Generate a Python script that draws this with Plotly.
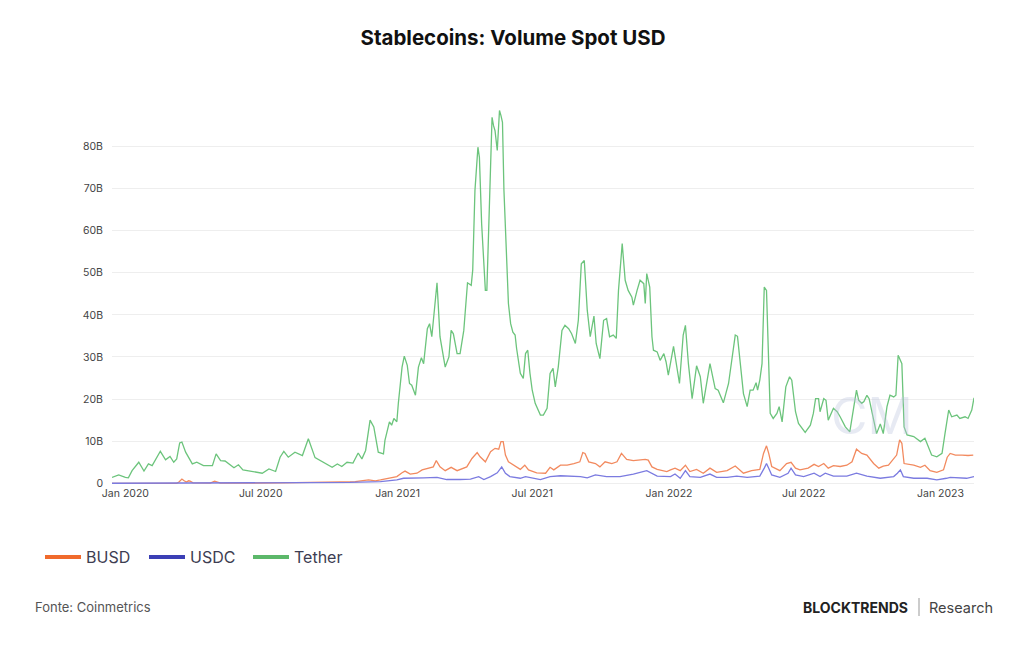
import pandas as pd
import plotly.graph_objects as go

BASE = pd.Timestamp("2020-01-01")

# Days since 2020-01-01 and values (billions USD)
tether_day = [-18, -9, 0, 4, 9, 18, 25, 31, 36, 47, 54, 60, 65, 69, 73, 76, 81, 90, 96, 105,
              117, 122, 128, 134, 146, 152, 158, 170, 184, 193, 202, 208, 213, 219, 228, 238,
              246, 255, 267, 278, 285, 291, 298, 306, 313, 318, 323, 329, 334, 340, 347, 349,
              355, 358, 361, 365, 367, 372, 375, 379, 382, 385, 390, 394, 398, 401, 406, 409,
              412, 419, 423, 430, 435, 438, 441, 446, 450, 455, 460, 465, 467, 470, 474, 476,
              479, 482, 484, 486, 489, 493, 495, 497, 500, 503, 505, 507, 509, 512, 515, 518,
              521, 524, 526, 531, 535, 538, 541, 544, 547, 551, 558, 562, 567, 571, 575, 578,
              582, 587, 591, 596, 600, 605, 609, 613, 617, 621, 625, 630, 633, 638, 643, 647,
              651, 656, 660, 663, 668, 672, 676, 681, 683, 688, 692, 697, 699, 701, 705, 708,
              710, 715, 719, 724, 727, 730, 737, 745, 750, 753, 757, 762, 768, 773, 777, 786,
              793, 797, 804, 811, 815, 820, 823, 827, 831, 836, 840, 844, 848, 850, 853, 856,
              859, 862, 865, 867, 871, 876, 879, 883, 888, 893, 896, 901, 905, 914, 921, 925,
              928, 932, 934, 939, 942, 945, 952, 957, 961, 968, 974, 979, 983, 986, 990, 993,
              997, 1000, 1006, 1010, 1015, 1019, 1024, 1028, 1033, 1036, 1039, 1044, 1047, 1051,
              1060, 1069, 1075, 1080, 1084, 1091, 1098, 1102, 1107, 1111, 1118, 1122, 1129, 1133,
              1138, 1141]
tether_val = [1.4, 2.0, 1.4, 1.3, 3.0, 5.0, 2.9, 4.6, 4.2, 7.6, 5.6, 6.4, 5.0, 5.8, 9.6, 9.8, 7.4,
              4.6, 5.0, 4.2, 4.2, 7.0, 5.4, 5.3, 3.7, 4.4, 3.2, 2.9, 2.4, 3.4, 2.8, 6.2, 7.6, 6.2,
              7.4, 6.6, 10.6, 6.1, 5.0, 3.8, 4.6, 4.0, 5.0, 4.8, 7.2, 5.8, 7.8, 15.0, 13.4, 7.4,
              7.0, 10.2, 14.6, 13.8, 15.4, 14.6, 19.0, 27.6, 30.2, 28.0, 23.7, 23.3, 20.9, 27.6,
              29.8, 28.4, 36.7, 37.9, 34.8, 47.6, 34.8, 27.6, 30.0, 36.3, 35.5, 30.8, 30.8, 36.3,
              47.6, 47.0, 50.6, 69.5, 79.8, 77.4, 61.6, 53.7, 45.8, 45.8, 61.6, 86.9, 84.9, 83.7,
              79.0, 88.5, 87.3, 85.7, 69.5, 56.9, 42.7, 37.9, 35.9, 35.2, 32.0, 26.1, 24.9, 30.8,
              31.6, 26.1, 22.1, 19.0, 16.2, 16.2, 17.8, 26.1, 27.3, 22.9, 27.6, 36.3, 37.5, 36.7,
              35.5, 33.2, 38.7, 52.1, 52.9, 41.1, 34.8, 39.7, 33.2, 29.6, 38.7, 39.1, 34.8, 35.2,
              34.4, 45.8, 56.9, 48.2, 45.8, 44.2, 42.3, 45.8, 48.2, 47.4, 42.7, 49.8, 46.6, 34.8,
              31.6, 31.2, 29.2, 30.8, 28.8, 25.7, 32.5, 23.7, 35.2, 37.5, 28.4, 20.1, 27.9, 25.3,
              19.0, 28.4, 22.5, 22.1, 19.1, 23.7, 29.2, 35.2, 34.9, 27.6, 21.3, 18.2, 22.1, 22.1,
              23.9, 22.1, 24.5, 28.4, 46.6, 45.8, 29.2, 16.6, 15.4, 16.6, 18.2, 14.6, 22.9, 25.3,
              24.5, 17.0, 14.2, 12.1, 13.8, 16.6, 20.1, 20.1, 17.0, 20.1, 19.7, 15.0, 17.8, 17.0,
              15.8, 13.4, 12.2, 17.4, 22.1, 19.7, 19.0, 19.4, 20.9, 20.1, 15.0, 11.8, 14.1, 11.8,
              18.2, 20.9, 20.5, 20.9, 30.4, 28.4, 13.4, 11.5, 11.1, 9.9, 10.7, 8.7, 6.7, 6.3, 7.1,
              11.8, 17.4, 15.8, 16.2, 15.4, 15.8, 15.4, 17.4, 20.3]

busd_day = [-18, 69, 72, 76, 79, 82, 85, 87, 91, 114, 120, 124, 128, 208, 276, 309, 327, 336, 343,
            356, 365, 372, 376, 383, 392, 399, 408, 414, 418, 423, 430, 438, 446, 459, 466, 473,
            477, 484, 491, 497, 502, 505, 508, 511, 515, 522, 531, 537, 542, 553, 565, 571, 576,
            585, 594, 603, 611, 615, 618, 623, 632, 638, 645, 654, 661, 667, 674, 683, 692, 699,
            703, 708, 715, 728, 733, 739, 746, 753, 759, 768, 777, 786, 795, 809, 820, 831, 842,
            853, 858, 862, 865, 869, 880, 889, 895, 901, 907, 918, 926, 932, 939, 945, 952, 961,
            970, 977, 983, 990, 997, 1006, 1013, 1019, 1026, 1033, 1037, 1041, 1044, 1047, 1060,
            1069, 1075, 1082, 1091, 1100, 1105, 1109, 1116, 1125, 1133, 1140]
busd_val = [0.0, 0.0, 0.3, 1.0, 0.6, 0.3, 0.6, 0.5, 0.1, 0.05, 0.5, 0.3, 0.05, 0.1, 0.2, 0.4, 0.8,
            0.6, 0.8, 1.2, 1.6, 2.5, 2.9, 2.2, 2.4, 3.2, 3.6, 3.9, 5.4, 3.9, 3.0, 3.8, 3.0, 3.9,
            5.9, 7.3, 6.3, 5.1, 7.5, 8.3, 8.1, 9.9, 9.9, 6.7, 5.1, 4.3, 3.3, 4.3, 3.2, 2.5, 2.4,
            3.8, 3.2, 4.3, 4.3, 4.7, 5.1, 7.3, 7.1, 5.1, 4.7, 3.9, 5.1, 4.7, 5.1, 7.1, 5.7, 5.4,
            5.5, 5.7, 5.5, 3.9, 3.3, 2.8, 3.2, 3.6, 3.0, 4.3, 2.8, 3.3, 2.4, 3.6, 2.6, 3.0, 4.1,
            2.4, 3.0, 3.3, 7.1, 8.9, 7.1, 4.0, 3.0, 4.7, 5.0, 3.6, 3.2, 3.6, 4.5, 4.0, 4.7, 3.6,
            4.2, 4.0, 4.3, 5.1, 8.1, 7.1, 6.7, 4.7, 3.6, 4.1, 4.3, 5.9, 6.7, 10.3, 9.5, 4.7, 4.3,
            3.8, 4.3, 3.0, 2.6, 3.2, 6.2, 7.1, 6.7, 6.7, 6.6, 6.7]

usdc_day = [-18, 168, 235, 302, 343, 365, 374, 387, 401, 419, 432, 450, 464, 475, 482, 491, 500,
            506, 511, 517, 531, 538, 558, 571, 585, 612, 621, 632, 647, 665, 683, 701, 715, 733,
            739, 746, 753, 759, 773, 786, 795, 809, 822, 836, 853, 859, 862, 865, 869, 880, 891,
            895, 901, 912, 926, 934, 941, 952, 970, 983, 997, 1015, 1033, 1038, 1042, 1046, 1060,
            1078, 1091, 1104, 1109, 1131, 1141]
usdc_val = [0.02, 0.05, 0.1, 0.2, 0.4, 0.8, 1.2, 1.2, 1.3, 1.4, 0.9, 0.9, 1.0, 1.6, 0.9, 1.6, 2.5,
            3.9, 2.4, 1.6, 1.2, 1.6, 0.9, 1.6, 1.8, 1.6, 1.3, 2.0, 1.6, 1.6, 2.2, 3.0, 1.7, 1.6,
            2.2, 1.2, 3.0, 1.6, 1.4, 2.2, 1.4, 1.4, 1.7, 1.4, 1.7, 3.6, 4.7, 3.6, 2.0, 1.4, 2.4,
            3.6, 2.0, 1.6, 2.4, 1.6, 2.4, 1.7, 1.7, 2.4, 1.7, 1.2, 1.6, 2.4, 3.2, 1.6, 1.2, 1.2,
            0.8, 1.2, 1.4, 1.2, 1.6]

y_ticks = [0, 10, 20, 30, 40, 50, 60, 70, 80]
y_tick_text = ["0", "10B", "20B", "30B", "40B", "50B", "60B", "70B", "80B"]
x_ticks = ["2020-01-01", "2020-07-01", "2021-01-01", "2021-07-01", "2022-01-01", "2022-07-01", "2023-01-01"]
x_tick_text = ["Jan 2020", "Jul 2020", "Jan 2021", "Jul 2021", "Jan 2022", "Jul 2022", "Jan 2023"]

series = [
    ("BUSD", busd_day, busd_val, "#f28a5f", "#f06a2c"),
    ("USDC", usdc_day, usdc_val, "#7b7be0", "#3b3fb5"),
    ("Tether", tether_day, tether_val, "#6cc47c", "#5cb86a"),
]

def to_dates(days):
    return [BASE + pd.Timedelta(days=d) for d in days]

fig = go.Figure()
# draw order: Tether behind, then BUSD, then USDC on top
for name, d, v, col, _ in [series[2], series[0], series[1]]:
    fig.add_trace(go.Scatter(x=to_dates(d), y=v, mode="lines", name=name,
                             line=dict(color=col, width=1.3), showlegend=False,
                             hoverinfo="x+y+name"))
for name, d, v, _, lcol in series:
    fig.add_trace(go.Scatter(x=[None], y=[None], mode="lines", name=name,
                             line=dict(color=lcol, width=4), showlegend=True))

W, H = 1024, 645
ML, MR, MT, MB = 112, 50, 104, 160
PW = W - ML - MR
PH = H - MT - MB

def px(x):
    return (x - ML) / PW

def py(y):
    return (H - MB - y) / PH

fig.update_layout(
    width=W, height=H,
    margin=dict(l=ML, r=MR, t=MT, b=MB),
    paper_bgcolor="white", plot_bgcolor="white",
    font=dict(family="Inter, Roboto, sans-serif", color="#3d3d4d"),
    title=dict(text="<b>Stablecoins: Volume Spot USD</b>", x=513 / W, xanchor="center",
               y=1 - 38 / H, yanchor="middle", xref="container", yref="container",
               font=dict(family="Inter, sans-serif", size=20.5, color="#111111")),
    xaxis=dict(range=[BASE + pd.Timedelta(days=-18), BASE + pd.Timedelta(days=1141)],
               tickvals=x_ticks, ticktext=x_tick_text, showgrid=False, zeroline=False,
               showline=False, ticks="", tickfont=dict(size=10.5, color="#444444")),
    yaxis=dict(range=[-0.4, 90.05], tickvals=y_ticks, ticktext=y_tick_text,
               showgrid=True, gridcolor="#eeeeee", gridwidth=1, zeroline=False,
               showline=False, ticks="", ticklabelstandoff=8,
               tickfont=dict(size=10.5, color="#444444")),
    legend=dict(orientation="h", xref="container", yref="container",
                x=40 / W, y=1 - 557 / H, xanchor="left", yanchor="middle",
                font=dict(size=16, color="#3d3d52"), itemwidth=36,
                entrywidth=53, entrywidthmode="pixels",
                traceorder="normal", bgcolor="rgba(0,0,0,0)"),
    showlegend=True,
)

fig.add_annotation(text="CM", x=px(872), y=py(416), xref="paper", yref="paper",
                   xanchor="center", yanchor="middle",
                   showarrow=False, font=dict(size=50, color="rgba(185,195,222,0.35)",
                                              family="Inter, sans-serif"))
fig.add_annotation(text="Fonte: Coinmetrics", x=px(33), y=py(607), xref="paper", yref="paper",
                   xanchor="left", yanchor="middle", showarrow=False,
                   font=dict(size=13, color="#555555"))
fig.add_annotation(text="<b>BLOCKTRENDS</b>", x=px(910), y=py(607), xref="paper", yref="paper",
                   xanchor="right", yanchor="middle", showarrow=False,
                   font=dict(size=14, color="#222222", family="Inter, sans-serif"))
fig.add_annotation(text="Research", x=px(927), y=py(607), xref="paper", yref="paper",
                   xanchor="left", yanchor="middle", showarrow=False,
                   font=dict(size=14.5, color="#444444", family="Inter, sans-serif"))
fig.add_shape(type="line", xref="paper", yref="paper", x0=px(919), x1=px(919),
              y0=py(598), y1=py(616), line=dict(color="#999999", width=1))

fig.write_html("out.html")
